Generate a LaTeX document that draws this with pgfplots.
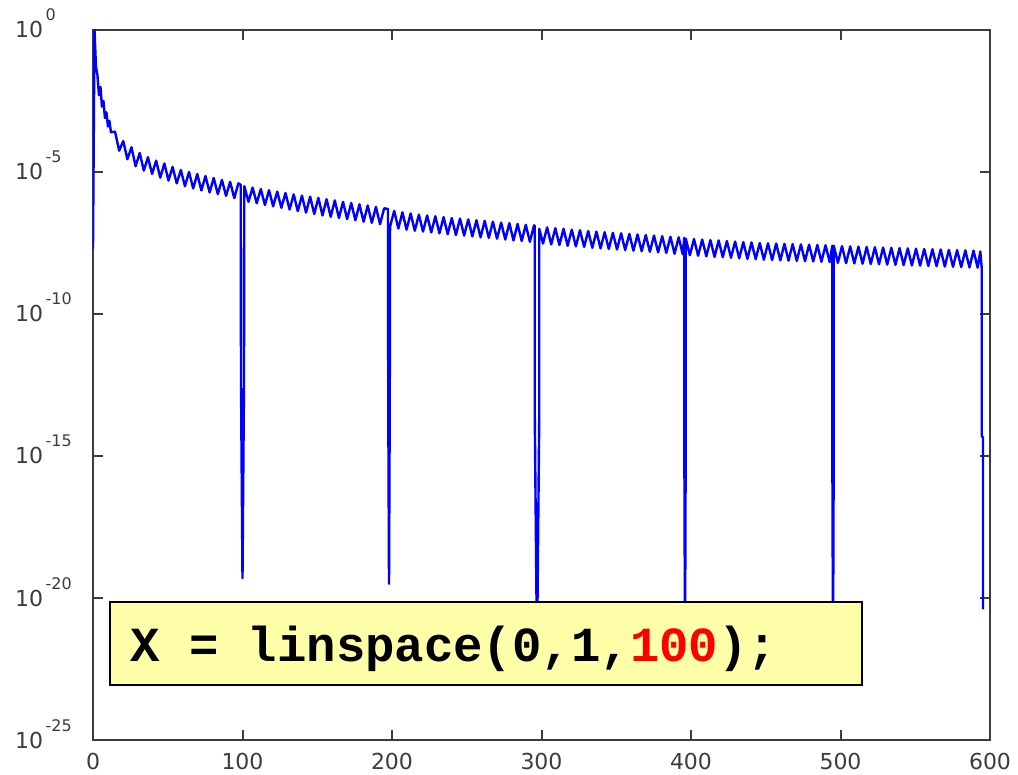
\documentclass[border=0pt]{standalone}
\usepackage{fontspec}
\setmainfont{DejaVu Sans}
\newfontfamily\boxfont{Liberation Mono}
\usepackage{pgfplots}
\pgfplotsset{compat=1.18}
\definecolor{boxyellow}{RGB}{255,255,170}
\definecolor{axisgray}{RGB}{60,60,60}
\newcommand{\ex}[1]{10\hspace{2.5pt}\smash{\raisebox{17pt}{\fontsize{16}{16}\selectfont #1}}}
\begin{document}
\begin{tikzpicture}
\useasboundingbox (-93pt,-35pt) rectangle (925pt,740pt);
\begin{axis}[
  scale only axis, width=897pt, height=710pt,
  xmin=0, xmax=600, ymin=-25, ymax=0,
  xtick={0,100,...,600}, ytick={-25,-20,...,0},
  yticklabels={\ex{-25},\ex{-20},\ex{-15},\ex{-10},\ex{-5},\ex{0}},
  tick align=inside, major tick length=10pt, minor tick num=0,
  axis line style={line width=2.2pt, axisgray},
  every tick/.style={line width=2pt, axisgray},
  tick label style={font=\fontsize{22}{24}\selectfont, text=axisgray},
  xticklabel style={anchor=north, inner sep=0pt, yshift=-13pt},
  yticklabel style={anchor=west, inner sep=0pt, xshift=-78pt},
  /pgf/number format/assume math mode=true,
  clip=true,
]
\addplot[blue, line width=2.4pt, line join=round] coordinates {
(0,-7.7) (1,0) (2,-1.3) (3,-1.6) (4,-2.3) (5,-2.0) (6,-2.7) (7,-2.5) (8,-3.1) (9,-2.9) (10,-3.4) (11,-3.2) (12,-3.6)
(14.75,-3.58) (17.5,-4.25) (20.25,-3.91) (23,-4.55) (25.75,-4.13) (28.5,-4.8) (31.25,-4.33) (34,-4.95)
(36.75,-4.48) (39.5,-5.07) (42.25,-4.6) (45,-5.2) (47.75,-4.7) (50.5,-5.3) (53.25,-4.82) (56,-5.4)
(58.75,-4.93) (61.5,-5.5) (64.25,-5.0) (67,-5.58) (69.75,-5.07) (72.5,-5.65) (75.25,-5.14) (78,-5.72)
(80.75,-5.21) (83.5,-5.78) (86.25,-5.28) (89,-5.84) (91.75,-5.35) (94.5,-5.92) (97.25,-5.4)
(98.8,-5.45) (99,-12.4) (100,-19.3) (101,-12.4) (101.2,-5.5)
(104,-6.05) (106.75,-5.55) (109.5,-6.1) (112.25,-5.6) (115,-6.16) (117.75,-5.64) (120.5,-6.21) (123.25,-5.69)
(126,-6.26) (128.75,-5.74) (131.5,-6.32) (134.25,-5.79) (137,-6.38) (139.75,-5.83) (142.5,-6.43) (145.25,-5.87)
(148,-6.48) (150.75,-5.91) (153.5,-6.53) (156.25,-5.96) (159,-6.58) (161.75,-6.0) (164.5,-6.62) (167.25,-6.05)
(170,-6.66) (172.75,-6.09) (175.5,-6.7) (178.25,-6.14) (181,-6.75) (183.75,-6.18) (186.5,-6.79) (189.25,-6.23)
(192,-6.84) (194.75,-6.28)
(197.3,-6.3) (197.5,-13.1) (198,-19.5) (198.5,-13.1) (198.7,-6.92)
(201.5,-6.37) (204.25,-6.99) (207,-6.42) (209.75,-7.03) (212.5,-6.46) (215.25,-7.07) (218,-6.5) (220.75,-7.1)
(223.5,-6.53) (226.25,-7.13) (229,-6.56) (231.75,-7.16) (234.5,-6.59) (237.25,-7.19) (240,-6.62) (242.75,-7.22)
(245.5,-6.64) (248.25,-7.24) (251,-6.67) (253.75,-7.27) (256.5,-6.7) (259.25,-7.3) (262,-6.72) (264.75,-7.32)
(267.5,-6.75) (270.25,-7.35) (273,-6.78) (275.75,-7.38) (278.5,-6.8) (281.25,-7.41) (284,-6.83) (286.75,-7.43)
(289.5,-6.86) (292.25,-7.46) (295,-6.88)
(295.5,-6.9) (295.5,-13.6) (297,-22) (298.5,-13.6) (298.5,-7.0)
(301,-7.52) (303.75,-6.95) (306.5,-7.55) (309.25,-6.98) (312,-7.57) (314.75,-7.0) (317.5,-7.6) (320.25,-7.03)
(323,-7.62) (325.75,-7.05) (328.5,-7.64) (331.25,-7.08) (334,-7.67) (336.75,-7.1) (339.5,-7.69) (342.25,-7.12)
(345,-7.71) (347.75,-7.14) (350.5,-7.73) (353.25,-7.16) (356,-7.75) (358.75,-7.18) (361.5,-7.77) (364.25,-7.2)
(367,-7.79) (369.75,-7.22) (372.5,-7.81) (375.25,-7.24) (378,-7.83) (380.75,-7.26) (383.5,-7.85) (386.25,-7.28)
(389,-7.88) (391.75,-7.3) (394.5,-7.9)
(395.5,-7.32) (395.5,-13.9) (396,-22) (396.5,-13.9) (396.5,-7.35)
(399.25,-7.93) (402,-7.36) (404.75,-7.95) (407.5,-7.38) (410.25,-7.97) (413,-7.4) (415.75,-7.99) (418.5,-7.41)
(421.25,-8.0) (424,-7.43) (426.75,-8.02) (429.5,-7.45) (432.25,-8.04) (435,-7.47) (437.75,-8.06) (440.5,-7.48)
(443.25,-8.07) (446,-7.5) (448.75,-8.09) (451.5,-7.51) (454.25,-8.1) (457,-7.52) (459.75,-8.11) (462.5,-7.53)
(465.25,-8.12) (468,-7.54) (470.75,-8.13) (473.5,-7.55) (476.25,-8.14) (479,-7.56) (481.75,-8.15) (484.5,-7.57)
(487.25,-8.16) (490,-7.58) (492.75,-8.17)
(494.5,-7.6) (494.5,-14.2) (495,-22) (495.5,-14.2) (495.5,-7.6)
(498.25,-8.2) (501,-7.61) (503.75,-8.21) (506.5,-7.62) (509.25,-8.22) (512,-7.63) (514.75,-8.23) (517.5,-7.64)
(520.25,-8.24) (523,-7.65) (525.75,-8.25) (528.5,-7.66) (531.25,-8.26) (534,-7.67) (536.75,-8.27) (539.5,-7.68)
(542.25,-8.28) (545,-7.69) (547.75,-8.29) (550.5,-7.7) (553.25,-8.3) (556,-7.71) (558.75,-8.31) (561.5,-7.72)
(564.25,-8.32) (567,-7.73) (569.75,-8.33) (572.5,-7.74) (575.25,-8.34) (578,-7.75) (580.75,-8.35) (583.5,-7.76)
(586.25,-8.36) (589,-7.77) (591.75,-8.37)
(593.5,-7.8) (594.5,-8.4) (594.5,-14.3) (595.3,-14.35) (595.3,-20.4)
};
\end{axis}
\draw[fill=boxyellow, draw=black, line width=2.5pt] (17pt,55pt) rectangle (769pt,138pt);
\node[anchor=base west, inner sep=0pt, text=black] at (37pt,78pt)
  {\fontsize{49}{49}\selectfont\boxfont\bfseries X = linspace(0,1,{\color{red}100});};
\end{tikzpicture}
\end{document}
